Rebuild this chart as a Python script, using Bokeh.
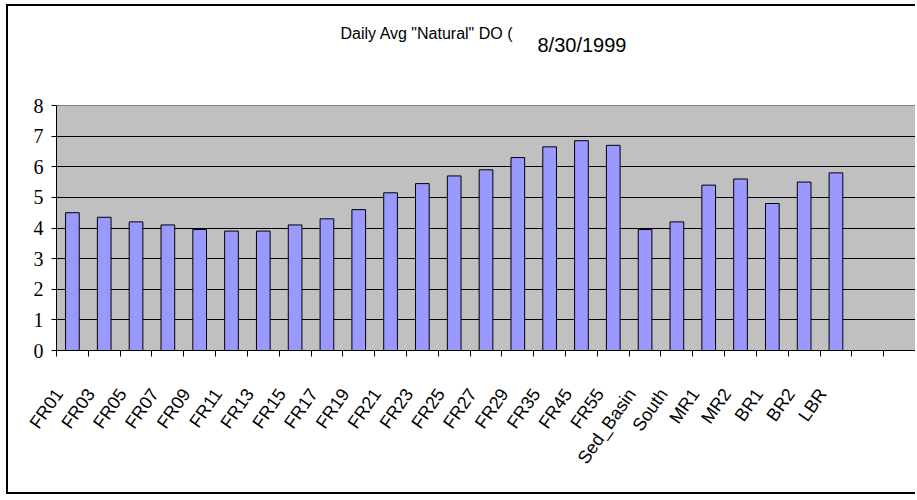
import math
from bokeh.plotting import figure
from bokeh.models import Range1d, FixedTicker, Label
from bokeh.embed import file_html
from bokeh.resources import INLINE

# ---- data ----
sites = ["FR01", "FR03", "FR05", "FR07", "FR09", "FR11", "FR13", "FR15", "FR17",
         "FR19", "FR21", "FR23", "FR25", "FR27", "FR29", "FR35", "FR45", "FR55",
         "Sed_Basin", "South", "MR1", "MR2", "BR1", "BR2", "LBR"]
do_values = [4.5, 4.35, 4.2, 4.1, 3.95, 3.9, 3.9, 4.1, 4.3,
             4.6, 5.15, 5.45, 5.7, 5.9, 6.3, 6.65, 6.85, 6.7,
             3.95, 4.2, 5.4, 5.6, 4.8, 5.5, 5.8]
empty_slots = 2                      # two unused category slots at the right
y_ticks = [0, 1, 2, 3, 4, 5, 6, 7, 8]
title_main = 'Daily Avg "Natural" DO ('
title_date = "8/30/1999"

n_slots = len(sites) + empty_slots
centers = [i + 0.5 for i in range(len(sites))]
boundaries = list(range(n_slots + 1))
LABEL_SHIFT = -0.42                  # rotated labels end just left of their bar
label_pos = [c + LABEL_SHIFT for c in centers]

FONT = "Liberation Sans"
NARROW = "Liberation Sans Narrow"

p = figure(width=909, height=490,
           x_range=Range1d(0, n_slots), y_range=Range1d(y_ticks[0], y_ticks[-1]),
           output_backend="svg", toolbar_location=None,
           min_border_left=48, min_border_right=2,
           min_border_top=99, min_border_bottom=146,
           background_fill_color="#C0C0C0", border_fill_color="white",
           outline_line_color="#808080")
p.title.visible = False
p.styles = {"margin-left": "6px", "margin-top": "4px",
            "border-top": "2px solid black", "border-left": "2px solid black",
            "border-bottom": "2px solid black"}

p.vbar(x=centers, top=do_values, width=0.43,
       fill_color="#9999FF", line_color="black", line_width=1)

# x axis: labels near slot centres, tick marks at slot boundaries
xa = p.xaxis[0]
xa.ticker = FixedTicker(ticks=label_pos, minor_ticks=boundaries)
xa.major_label_overrides = {c: s for c, s in zip(label_pos, sites)}
xa.major_tick_in = 0
xa.major_tick_out = 0
xa.minor_tick_in = 0
xa.minor_tick_out = 6
xa.minor_tick_line_color = "black"
xa.axis_line_color = "black"
xa.major_label_orientation = math.radians(55)
xa.major_label_standoff = 34
xa.major_label_text_font = FONT
xa.major_label_text_font_size = "18px"
xa.major_label_text_color = "black"

ya = p.yaxis[0]
ya.ticker = FixedTicker(ticks=y_ticks)
ya.major_tick_in = 0
ya.major_tick_out = 5
ya.minor_tick_line_color = None
ya.major_tick_line_color = "black"
ya.axis_line_color = "black"
ya.major_label_standoff = 8
ya.major_label_text_font = NARROW
ya.major_label_text_font_size = "20px"
ya.major_label_text_color = "black"

p.xgrid.visible = False
p.ygrid.grid_line_color = "black"
p.ygrid.grid_line_width = 1

# title pieces, placed in the space above the plot frame
p.add_layout(Label(x=284, y=72, x_units="screen", y_units="screen",
                   text=title_main, text_font=FONT, text_font_size="16px",
                   text_baseline="middle", text_align="left",
                   text_color="black"), "above")
p.add_layout(Label(x=481, y=44, x_units="screen", y_units="screen",
                   text=title_date, text_font=FONT, text_font_size="20px",
                   text_baseline="middle", text_align="left",
                   text_color="black"), "above")

open("out.html", "w").write(file_html(p, INLINE))
